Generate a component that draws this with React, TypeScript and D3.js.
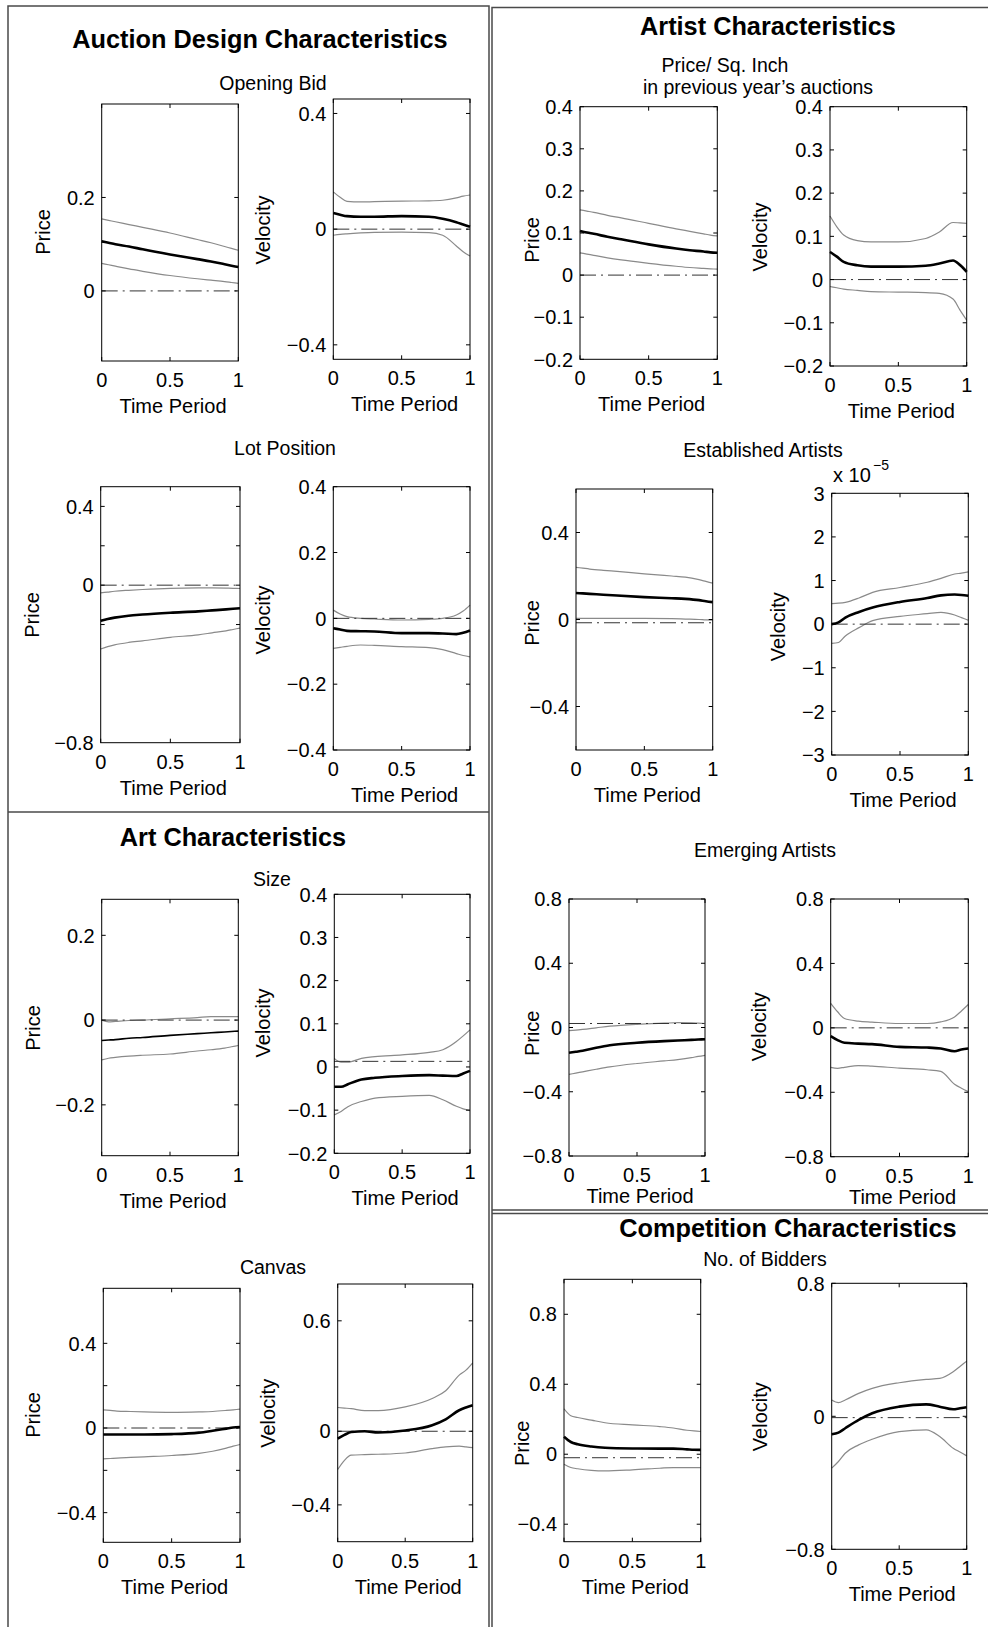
import React from 'react';
import * as d3 from 'd3';

// sample points along the normalised time axis (shared by every curve)
const TIME = [0, 0.05, 0.1, 0.2, 0.3, 0.5, 0.7, 0.8, 0.9, 0.95, 1];
const X_TICKS = [0, 0.5, 1];
const X_TICK_LABELS = ['0', '0.5', '1'];

// Auction design: opening bid
const openBidPriceHi = [0.154, 0.151, 0.148, 0.142, 0.136, 0.124, 0.110, 0.103, 0.095, 0.091, 0.087];
const openBidPriceMid = [0.106, 0.103, 0.100, 0.095, 0.089, 0.078, 0.068, 0.063, 0.057, 0.054, 0.051];
const openBidPriceLo = [0.059, 0.056, 0.053, 0.047, 0.042, 0.033, 0.026, 0.023, 0.020, 0.018, 0.016];
const openBidVelHi = [0.129, 0.110, 0.096, 0.094, 0.095, 0.097, 0.098, 0.100, 0.108, 0.114, 0.118];
const openBidVelMid = [0.056, 0.050, 0.045, 0.043, 0.043, 0.045, 0.043, 0.036, 0.024, 0.016, 0.008];
const openBidVelLo = [-0.021, -0.018, -0.016, -0.013, -0.011, -0.010, -0.012, -0.021, -0.058, -0.078, -0.093];

// Auction design: lot position
const lotPriceHi = [-0.039, -0.035, -0.031, -0.026, -0.022, -0.016, -0.014, -0.014, -0.015, -0.016, -0.017];
const lotPriceMid = [-0.181, -0.172, -0.165, -0.155, -0.149, -0.140, -0.133, -0.128, -0.123, -0.120, -0.117];
const lotPriceLo = [-0.324, -0.312, -0.303, -0.291, -0.283, -0.265, -0.252, -0.242, -0.232, -0.225, -0.218];
const lotVelHi = [0.025, 0.013, 0.005, 0.0, -0.002, -0.005, -0.003, 0.0, 0.010, 0.022, 0.040];
const lotVelMid = [-0.030, -0.034, -0.038, -0.039, -0.040, -0.045, -0.045, -0.046, -0.048, -0.044, -0.037];
const lotVelLo = [-0.091, -0.088, -0.085, -0.081, -0.082, -0.086, -0.089, -0.095, -0.107, -0.113, -0.117];

// Art: size
const sizePriceHi = [0.0, -0.004, -0.003, -0.001, 0.0, 0.003, 0.006, 0.008, 0.008, 0.008, 0.008];
const sizePriceMid = [-0.048, -0.047, -0.046, -0.043, -0.041, -0.036, -0.032, -0.030, -0.028, -0.027, -0.026];
const sizePriceLo = [-0.094, -0.090, -0.088, -0.085, -0.083, -0.080, -0.073, -0.070, -0.066, -0.063, -0.060];
const sizeVelHi = [0.020, 0.011, 0.011, 0.020, 0.024, 0.028, 0.034, 0.040, 0.059, 0.072, 0.086];
const sizeVelMid = [-0.046, -0.046, -0.040, -0.029, -0.025, -0.021, -0.019, -0.020, -0.021, -0.015, -0.009];
const sizeVelLo = [-0.111, -0.103, -0.092, -0.080, -0.072, -0.068, -0.066, -0.076, -0.091, -0.097, -0.101];

// Art: canvas
const canvasPriceHi = [0.086, 0.083, 0.080, 0.078, 0.076, 0.074, 0.076, 0.078, 0.083, 0.086, 0.089];
const canvasPriceMid = [-0.031, -0.031, -0.031, -0.031, -0.031, -0.029, -0.022, -0.013, -0.003, 0.002, 0.005];
const canvasPriceLo = [-0.146, -0.144, -0.142, -0.139, -0.136, -0.130, -0.120, -0.110, -0.095, -0.086, -0.078];
const canvasVelHi = [0.129, 0.126, 0.123, 0.112, 0.112, 0.132, 0.178, 0.220, 0.305, 0.332, 0.372];
const canvasVelMid = [-0.040, -0.020, -0.004, 0.0, -0.007, 0.004, 0.033, 0.065, 0.114, 0.129, 0.141];
const canvasVelLo = [-0.208, -0.158, -0.130, -0.127, -0.125, -0.118, -0.094, -0.085, -0.081, -0.085, -0.089];

// Artist: price per sq. inch in previous year's auctions
const sqInchPriceHi = [0.155, 0.152, 0.149, 0.142, 0.136, 0.123, 0.110, 0.104, 0.098, 0.095, 0.093];
const sqInchPriceMid = [0.105, 0.101, 0.098, 0.091, 0.085, 0.073, 0.063, 0.059, 0.056, 0.054, 0.053];
const sqInchPriceLo = [0.053, 0.050, 0.047, 0.041, 0.036, 0.028, 0.021, 0.018, 0.016, 0.015, 0.014];
const sqInchVelHi = [0.147, 0.122, 0.103, 0.090, 0.087, 0.087, 0.095, 0.110, 0.132, 0.131, 0.130];
const sqInchVelMid = [0.064, 0.053, 0.041, 0.033, 0.030, 0.030, 0.032, 0.037, 0.044, 0.034, 0.018];
const sqInchVelLo = [-0.016, -0.019, -0.022, -0.025, -0.028, -0.029, -0.030, -0.032, -0.045, -0.070, -0.094];

// Artist: established (velocity in units of 1e-5)
const establPriceHi = [0.240, 0.236, 0.232, 0.226, 0.221, 0.210, 0.200, 0.195, 0.183, 0.175, 0.167];
const establPriceMid = [0.122, 0.120, 0.118, 0.114, 0.110, 0.103, 0.098, 0.095, 0.089, 0.084, 0.080];
const establPriceLo = [0.005, 0.005, 0.005, 0.005, 0.005, 0.005, 0.004, 0.002, 0.0, -0.002, -0.003];
const establVelHi = [0.47, 0.48, 0.50, 0.60, 0.73, 0.84, 0.96, 1.05, 1.15, 1.17, 1.20];
const establVelMid = [0.0, 0.04, 0.15, 0.28, 0.38, 0.51, 0.60, 0.66, 0.68, 0.67, 0.65];
const establVelLo = [-0.44, -0.42, -0.27, -0.08, 0.08, 0.18, 0.24, 0.27, 0.21, 0.15, 0.09];

// Artist: emerging
const emergPriceHi = [-0.020, -0.016, -0.012, -0.002, 0.008, 0.020, 0.027, 0.030, 0.029, 0.027, 0.025];
const emergPriceMid = [-0.157, -0.151, -0.145, -0.126, -0.110, -0.095, -0.085, -0.081, -0.077, -0.075, -0.073];
const emergPriceLo = [-0.292, -0.284, -0.276, -0.260, -0.245, -0.224, -0.208, -0.200, -0.188, -0.180, -0.173];
const emergVelHi = [0.152, 0.100, 0.058, 0.042, 0.036, 0.027, 0.027, 0.037, 0.068, 0.105, 0.145];
const emergVelMid = [-0.051, -0.076, -0.093, -0.098, -0.101, -0.118, -0.122, -0.128, -0.145, -0.135, -0.128];
const emergVelLo = [-0.245, -0.251, -0.245, -0.234, -0.238, -0.250, -0.260, -0.270, -0.350, -0.375, -0.396];

// Competition: number of bidders
const biddersPriceHi = [0.260, 0.220, 0.210, 0.195, 0.180, 0.168, 0.158, 0.150, 0.137, 0.133, 0.130];
const biddersPriceMid = [0.100, 0.070, 0.057, 0.044, 0.037, 0.033, 0.032, 0.032, 0.028, 0.026, 0.025];
const biddersPriceLo = [-0.057, -0.076, -0.083, -0.092, -0.095, -0.089, -0.080, -0.076, -0.076, -0.076, -0.076];
const biddersVelHi = [0.098, 0.082, 0.098, 0.138, 0.168, 0.202, 0.222, 0.228, 0.268, 0.300, 0.332];
const biddersVelMid = [-0.108, -0.098, -0.072, -0.022, 0.018, 0.058, 0.072, 0.058, 0.042, 0.048, 0.054];
const biddersVelLo = [-0.312, -0.272, -0.222, -0.172, -0.138, -0.092, -0.082, -0.122, -0.192, -0.215, -0.238];

const FONT = '"Liberation Sans", Arial, Helvetica, sans-serif';
const fmt1 = (v: number) => (v === 0 ? '0' : d3.format('.1f')(v));
const fmtInt = d3.format('d');

type Panel = {
  box: [number, number, number, number];
  domain: [number, number];
  ticks: number[];
  marks?: number[];
  fmt?: (v: number) => string;
  ylabel: string;
  yl: [number, number];
  xlOff?: number;
  hi: number[];
  mid: number[];
  lo: number[];
  ref: number;
  midWidth?: number;
};

const PANELS: Panel[] = [
  { box: [101.7, 104, 136.6, 257], domain: [-0.15, 0.4], ticks: [0, 0.2], ylabel: 'Price', yl: [43, 232],
    hi: openBidPriceHi, mid: openBidPriceMid, lo: openBidPriceLo, ref: 0 },
  { box: [333.3, 99, 136.7, 260.3], domain: [-0.45, 0.45], ticks: [-0.4, 0, 0.4], ylabel: 'Velocity', yl: [263, 230],
    hi: openBidVelHi, mid: openBidVelMid, lo: openBidVelLo, ref: 0 },
  { box: [100.7, 486.7, 139.3, 256], domain: [-0.8, 0.5], ticks: [-0.8, 0, 0.4], marks: [-0.2, 0, 0.2, 0.4],
    ylabel: 'Price', yl: [31.7, 615], hi: lotPriceHi, mid: lotPriceMid, lo: lotPriceLo, ref: 0 },
  { box: [333.3, 486.7, 136.7, 263.3], domain: [-0.4, 0.4], ticks: [-0.4, -0.2, 0, 0.2, 0.4], ylabel: 'Velocity', yl: [263, 620],
    hi: lotVelHi, mid: lotVelMid, lo: lotVelLo, ref: 0 },
  { box: [101.7, 899.3, 136.6, 256.4], domain: [-0.32, 0.285], ticks: [-0.2, 0, 0.2], ylabel: 'Price', yl: [33.3, 1028],
    hi: sizePriceHi, mid: sizePriceMid, lo: sizePriceLo, ref: 0, midWidth: 1.6 },
  { box: [334.3, 894.3, 135.7, 259], domain: [-0.2, 0.4], ticks: [-0.2, -0.1, 0, 0.1, 0.2, 0.3, 0.4], ylabel: 'Velocity', yl: [263.3, 1023],
    hi: sizeVelHi, mid: sizeVelMid, lo: sizeVelLo, ref: 0.013 },
  { box: [103.3, 1288.3, 136.7, 254], domain: [-0.54, 0.66], ticks: [-0.4, 0, 0.4], marks: [-0.4, -0.2, 0, 0.2, 0.4],
    ylabel: 'Price', yl: [33.3, 1415], hi: canvasPriceHi, mid: canvasPriceMid, lo: canvasPriceLo, ref: 0 },
  { box: [337.7, 1284, 135, 257.7], domain: [-0.6, 0.8], ticks: [-0.4, 0, 0.6], ylabel: 'Velocity', yl: [268.3, 1413.3],
    hi: canvasVelHi, mid: canvasVelMid, lo: canvasVelLo, ref: 0 },
  { box: [580, 106.7, 137.3, 252.6], domain: [-0.2, 0.4], ticks: [-0.2, -0.1, 0, 0.1, 0.2, 0.3, 0.4], ylabel: 'Price', yl: [531.7, 240],
    hi: sqInchPriceHi, mid: sqInchPriceMid, lo: sqInchPriceLo, ref: 0 },
  { box: [830, 106.7, 136.7, 259.3], domain: [-0.2, 0.4], ticks: [-0.2, -0.1, 0, 0.1, 0.2, 0.3, 0.4], ylabel: 'Velocity', yl: [760, 237],
    hi: sqInchVelHi, mid: sqInchVelMid, lo: sqInchVelLo, ref: 0 },
  { box: [576, 489, 136.7, 261], domain: [-0.6, 0.6], ticks: [-0.4, 0, 0.4], ylabel: 'Price', yl: [531.7, 623],
    hi: establPriceHi, mid: establPriceMid, lo: establPriceLo, ref: -0.015 },
  { box: [831.7, 493.3, 136.6, 261.7], domain: [-3, 3], ticks: [-3, -2, -1, 0, 1, 2, 3], fmt: fmtInt, ylabel: 'Velocity', yl: [778, 626.7],
    hi: establVelHi, mid: establVelMid, lo: establVelLo, ref: 0 },
  { box: [569, 899, 136, 257], domain: [-0.8, 0.8], ticks: [-0.8, -0.4, 0, 0.4, 0.8], ylabel: 'Price', yl: [531.7, 1033.3], xlOff: 47,
    hi: emergPriceHi, mid: emergPriceMid, lo: emergPriceLo, ref: 0.025 },
  { box: [830.7, 899, 137.6, 257.7], domain: [-0.8, 0.8], ticks: [-0.8, -0.4, 0, 0.4, 0.8], ylabel: 'Velocity', yl: [759.3, 1026.7], xlOff: 47,
    hi: emergVelHi, mid: emergVelMid, lo: emergVelLo, ref: 0 },
  { box: [564, 1279.3, 136.7, 262.4], domain: [-0.5, 1.0], ticks: [-0.4, 0, 0.4, 0.8], ylabel: 'Price', yl: [521.7, 1443.3],
    hi: biddersPriceHi, mid: biddersPriceMid, lo: biddersPriceLo, ref: -0.02 },
  { box: [831.7, 1283.3, 135, 266], domain: [-0.8, 0.8], ticks: [-0.8, 0, 0.8], ylabel: 'Velocity', yl: [760, 1416.7],
    hi: biddersVelHi, mid: biddersVelMid, lo: biddersVelLo, ref: -0.008 },
];

const TITLES: { text: string; x: number; y: number; bold?: boolean }[] = [
  { text: 'Auction Design Characteristics', x: 260, y: 48, bold: true },
  { text: 'Opening Bid', x: 273, y: 90 },
  { text: 'Lot Position', x: 285, y: 455 },
  { text: 'Art Characteristics', x: 233, y: 846, bold: true },
  { text: 'Size', x: 272, y: 886 },
  { text: 'Canvas', x: 273, y: 1274 },
  { text: 'Artist Characteristics', x: 768, y: 35, bold: true },
  { text: 'Price/ Sq. Inch', x: 725, y: 72 },
  { text: 'in previous year\u2019s auctions', x: 758, y: 94 },
  { text: 'Established Artists', x: 763, y: 457 },
  { text: 'Emerging Artists', x: 765, y: 857 },
  { text: 'Competition Characteristics', x: 788, y: 1237, bold: true },
  { text: 'No. of Bidders', x: 765, y: 1266 },
];

function PanelView({ p }: { p: Panel }) {
  const [bx, by, bw, bh] = p.box;
  const x = d3.scaleLinear().domain([0, 1]).range([bx, bx + bw]);
  const y = d3.scaleLinear().domain(p.domain).range([by + bh, by]);
  const line = d3
    .line<number>()
    .x((_, i) => x(TIME[i]))
    .y((v) => y(v))
    .curve(d3.curveMonotoneX);
  const fmt = p.fmt ?? fmt1;
  const marks = p.marks ?? p.ticks;
  const tl = 4;
  const xlOff = p.xlOff ?? 52;

  return (
    <g>
      <path d={line(p.hi) ?? ''} fill="none" stroke="#8a8a8a" strokeWidth={1.2} />
      <path d={line(p.lo) ?? ''} fill="none" stroke="#8a8a8a" strokeWidth={1.2} />
      <line x1={x(0)} x2={x(1)} y1={y(p.ref)} y2={y(p.ref)} stroke="#333" strokeWidth={1}
        strokeDasharray="16,5,2,5" />
      <path d={line(p.mid) ?? ''} fill="none" stroke="#000" strokeWidth={p.midWidth ?? 2.6}
        strokeLinejoin="round" />
      <rect x={bx} y={by} width={bw} height={bh} fill="none" stroke="#000" strokeWidth={1} />

      {marks.map((t) => (
        <g key={'m' + t}>
          <line x1={bx} x2={bx + tl} y1={y(t)} y2={y(t)} stroke="#000" />
          <line x1={bx + bw - tl} x2={bx + bw} y1={y(t)} y2={y(t)} stroke="#000" />
        </g>
      ))}
      {p.ticks.map((t) => (
        <text key={'t' + t} x={bx - 7} y={y(t)} dy="0.36em" textAnchor="end" fontSize={20}>
          {fmt(t)}
        </text>
      ))}

      {X_TICKS.map((t, i) => (
        <g key={'x' + t}>
          <line x1={x(t)} x2={x(t)} y1={by} y2={by + tl} stroke="#000" />
          <line x1={x(t)} x2={x(t)} y1={by + bh - tl} y2={by + bh} stroke="#000" />
          <text x={x(t)} y={by + bh + 26} textAnchor="middle" fontSize={20}>
            {X_TICK_LABELS[i]}
          </text>
        </g>
      ))}
      <text x={bx + bw / 2 + 3} y={by + bh + xlOff} textAnchor="middle" fontSize={20}>
        Time Period
      </text>
      <text transform={`translate(${p.yl[0]},${p.yl[1]}) rotate(-90)`} textAnchor="middle" dy="0.35em"
        fontSize={20}>
        {p.ylabel}
      </text>
    </g>
  );
}

export default function App() {
  const W = 988;
  const H = 1627;
  const frame = '#4a4a4a';
  return (
    <svg width={W} height={H} style={{ position: 'absolute', left: 0, top: 0, background: '#fff' }}
      fontFamily={FONT} fill="#000">
      {/* panel frames */}
      <g stroke={frame} strokeWidth={1.5} fill="none">
        <path d={`M8,${H} V6 H489 V${H}`} />
        <line x1={8} x2={489} y1={812} y2={812} />
        <path d={`M492,${H} V7.5 H${W}`} />
        <line x1={492} x2={W} y1={1210} y2={1210} />
        <line x1={492} x2={W} y1={1213.5} y2={1213.5} />
      </g>

      {TITLES.map((t) => (
        <text key={t.text} x={t.x} y={t.y} textAnchor="middle" fontSize={t.bold ? 25.3 : 19.5}
          fontWeight={t.bold ? 'bold' : 'normal'}>
          {t.text}
        </text>
      ))}

      {PANELS.map((p, i) => (
        <PanelView key={i} p={p} />
      ))}

      {/* exponent of the established-artists velocity axis */}
      <text x={833} y={481.7} fontSize={20}>x 10</text>
      <text x={873} y={470} fontSize={14}>{'\u22125'}</text>
    </svg>
  );
}
